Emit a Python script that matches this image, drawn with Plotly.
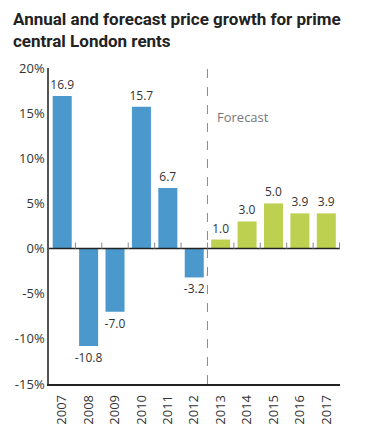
import plotly.graph_objects as go

years = ["2007", "2008", "2009", "2010", "2011", "2012", "2013", "2014", "2015", "2016", "2017"]
growth = [16.9, -10.8, -7.0, 15.7, 6.7, -3.2, 1.0, 3.0, 5.0, 3.9, 3.9]
is_forecast = [False] * 6 + [True] * 5
y_tick_vals = [-15, -10, -5, 0, 5, 10, 15, 20]
y_tick_text = ["-15%", "-10%", "-5%", "0%", "5%", "10%", "15%", "20%"]

BLUE = "#4a98cc"
GREEN = "#bdd04f"
colors = [GREEN if f else BLUE for f in is_forecast]
labels = [("-" if v < 0 else "") + f"{abs(v):.1f}" for v in growth]

fig = go.Figure()
fig.add_trace(go.Bar(
    x=years, y=growth, marker=dict(color=colors, line=dict(width=0)),
    text=labels, textposition="outside", cliponaxis=False, constraintext="none",
    textfont=dict(family="Open Sans", size=12, color="#333"),
    hoverinfo="skip",
))

shapes = []
shapes.append(dict(type="line", xref="paper", yref="y", x0=0, x1=1, y0=0, y1=0,
                   line=dict(color="#222", width=1.5)))
for i in range(1, len(years) + 1):
    shapes.append(dict(type="line", xref="x", yref="y", x0=i - 0.5, x1=i - 0.5,
                       ysizemode="pixel", yanchor=0, y0=0, y1=6,
                       line=dict(color="#888", width=1)))
n_hist = is_forecast.index(True)
shapes.append(dict(type="line", xref="x", yref="paper", x0=n_hist - 0.5, x1=n_hist - 0.5,
                   y0=0, y1=1.01, line=dict(color="#888", width=1, dash="dash")))

fig.update_layout(
    width=371, height=421,
    margin=dict(l=41, r=39, t=60, b=45, autoexpand=False),
    paper_bgcolor="white", plot_bgcolor="white",
    showlegend=False,
    bargap=0.28,
    xaxis=dict(type="category", showline=True, linecolor="#222", linewidth=1.5,
               ticks="", tickangle=-90, automargin=False, ticklabelstandoff=4,
               tickfont=dict(family="Open Sans", size=13, color="#333"),
               showgrid=False, zeroline=False, fixedrange=True),
    yaxis=dict(range=[-15, 20], tickvals=y_tick_vals, ticktext=y_tick_text,
               showline=True, linecolor="#555", linewidth=1.5, ticks="", automargin=False,
               tickfont=dict(family="Open Sans", size=13, color="#333"),
               showgrid=False, zeroline=False, fixedrange=True),
    shapes=shapes,
    annotations=[
        dict(text="<b>Annual and forecast price growth for prime<br>central London rents</b>",
             xref="paper", yref="paper", x=0, y=1, xanchor="left", yanchor="top",
             xshift=-38, yshift=61, align="left", showarrow=False,
             font=dict(family="Roboto", size=17, color="#222")),
        dict(text="Forecast", xref="x", yref="y", x=n_hist - 0.5, y=14.6,
             xanchor="left", yanchor="middle", xshift=8, showarrow=False,
             font=dict(family="Open Sans", size=13, color="#777")),
    ],
)

fig.write_html("out.html")
